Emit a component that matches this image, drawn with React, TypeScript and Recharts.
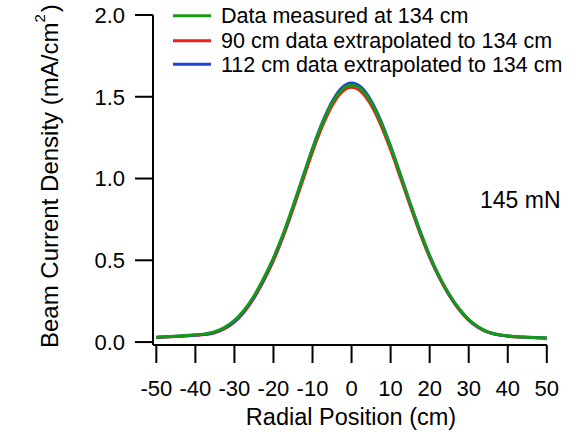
import React from 'react'
import { LineChart, Line, XAxis, YAxis } from 'recharts'

const FONT = '"Liberation Sans", Arial, sans-serif'

// radial position (cm)
const radialPos = [
  -50, -47.5, -45, -42.5, -40, -37.5, -35, -32.5, -30, -27.5, -25, -22.5, -20, -17.5, -15, -12.5, -10, -7.5, -5, -2.5,
  0, 2.5, 5, 7.5, 10, 12.5, 15, 17.5, 20, 22.5, 25, 27.5, 30, 32.5, 35, 37.5, 40, 42.5, 45, 47.5, 50,
]

// beam current density (mA/cm^2)
const measured134 = [
  0.030, 0.033, 0.036, 0.040, 0.044, 0.050, 0.063, 0.090, 0.132, 0.196, 0.282, 0.390, 0.515, 0.662, 0.830, 1.005, 1.180, 1.335, 1.460, 1.543,
  1.572, 1.545, 1.465, 1.345, 1.192, 1.022, 0.848, 0.680, 0.528, 0.400, 0.292, 0.205, 0.138, 0.092, 0.062, 0.046, 0.038, 0.033, 0.030, 0.027, 0.025,
]
const extrap90 = [
  0.028, 0.031, 0.034, 0.037, 0.041, 0.046, 0.057, 0.082, 0.122, 0.184, 0.268, 0.374, 0.498, 0.645, 0.812, 0.988, 1.163, 1.318, 1.445, 1.528,
  1.558, 1.530, 1.449, 1.327, 1.176, 1.006, 0.833, 0.667, 0.517, 0.391, 0.285, 0.199, 0.133, 0.088, 0.059, 0.044, 0.036, 0.031, 0.028, 0.026, 0.024,
]
const extrap112 = [
  0.029, 0.032, 0.035, 0.039, 0.043, 0.048, 0.060, 0.086, 0.127, 0.190, 0.276, 0.384, 0.510, 0.658, 0.828, 1.006, 1.184, 1.342, 1.470, 1.555,
  1.584, 1.557, 1.476, 1.353, 1.197, 1.025, 0.849, 0.680, 0.527, 0.399, 0.291, 0.204, 0.137, 0.091, 0.061, 0.045, 0.037, 0.032, 0.029, 0.027, 0.025,
]

const xTicks = [-50, -40, -30, -20, -10, 0, 10, 20, 30, 40, 50]
const yTicks = [0, 0.5, 1, 1.5, 2]

const series = [
  { key: 'measured', name: 'Data measured at 134 cm', color: '#169a16' },
  { key: 'ext90', name: '90 cm data extrapolated to 134 cm', color: '#f21a1a' },
  { key: 'ext112', name: '112 cm data extrapolated to 134 cm', color: '#1b44d8' },
]

const data = radialPos.map((x, i) => ({
  x,
  measured: measured134[i],
  ext90: extrap90[i],
  ext112: extrap112[i],
}))

const axisStyle = { stroke: '#000', strokeWidth: 2 }

export default function App() {
  // draw order: red, blue, then green on top
  const drawOrder = [series[1], series[2], series[0]]
  return (
    <div style={{ position: 'absolute', left: 0, top: 0, background: '#fff' }}>
      <LineChart width={573} height={433} data={data} margin={{ top: 15, right: 26, bottom: 0, left: 0 }}>
        <XAxis
          type="number"
          dataKey="x"
          domain={[-50.85, 50.05]}
          allowDataOverflow
          ticks={xTicks}
          interval={0}
          height={88}
          tickSize={18}
          tickMargin={17}
          axisLine={axisStyle}
          tickLine={axisStyle}
          tick={{ fill: '#000', fontSize: 22, fontFamily: FONT }}
        />
        <YAxis
          type="number"
          domain={[-0.018, 2]}
          allowDataOverflow
          ticks={yTicks}
          interval={0}
          width={153}
          tickSize={18}
          tickMargin={10}
          tickFormatter={(v: number) => v.toFixed(1)}
          axisLine={axisStyle}
          tickLine={axisStyle}
          tick={{ fill: '#000', fontSize: 22, fontFamily: FONT }}
        />
        {drawOrder.map((s) => (
          <Line
            key={s.key}
            type="monotone"
            dataKey={s.key}
            name={s.name}
            stroke={s.color}
            strokeWidth={3}
            dot={false}
            isAnimationActive={false}
          />
        ))}

        {/* legend */}
        {series.map((s, i) => {
          const y = [15.7, 40.7, 64.3][i]
          return (
            <g key={s.key}>
              <line x1={173} x2={211} y1={y} y2={y} stroke={s.color} strokeWidth={3} />
              <text x={221} y={y + 7.7} fontSize={21.5} fontFamily={FONT} fill="#000">
                {s.name}
              </text>
            </g>
          )
        })}

        <text x={480} y={208} fontSize={23} fontFamily={FONT} fill="#000">
          145 mN
        </text>
        <text x={351} y={425} textAnchor="middle" fontSize={23.5} fontFamily={FONT} fill="#000">
          Radial Position (cm)
        </text>
        <text x={58} y={348} transform="rotate(-90, 58, 348)" fontSize={24} fontFamily={FONT} fill="#000">
          Beam Current Density (mA/cm
          <tspan dy={-13} fontSize={15}>2</tspan>
          <tspan dy={13} dx={2}>)</tspan>
        </text>
      </LineChart>
    </div>
  )
}
